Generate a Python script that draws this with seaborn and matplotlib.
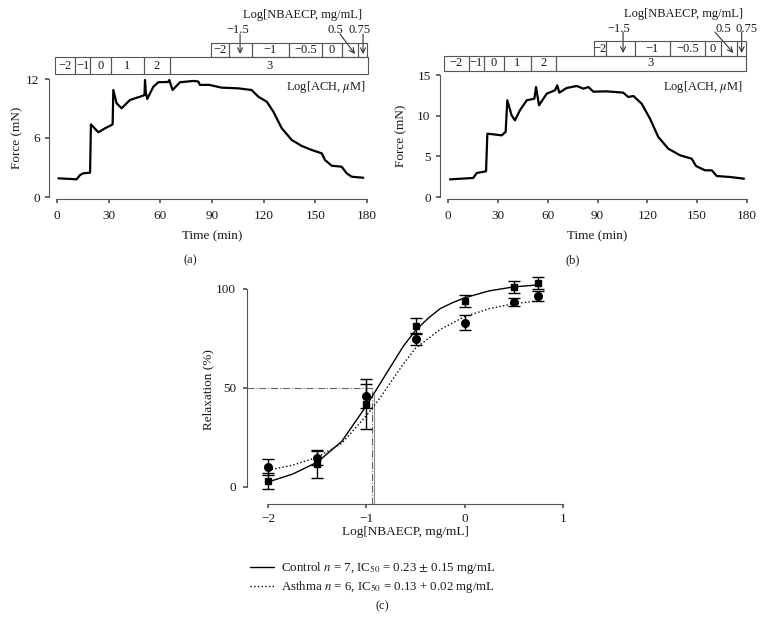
import numpy as np
import pandas as pd
import seaborn as sns
import matplotlib.pyplot as plt
from matplotlib.patches import Rectangle
from matplotlib.lines import Line2D
from matplotlib.transforms import blended_transform_factory

# ---- force traces (a) and (b) ----
time_a = [0.8, 11.4, 13.4, 15.3, 19.2, 19.7, 24.0, 27.9, 31.7, 32.3, 32.7, 34.6, 37.5, 42.4, 48.2,
          50.8, 51.1, 51.6, 52.4, 55.9, 58.8, 64.6, 65.2, 67.1, 71.4, 79.1, 82.0, 83.0, 88.4, 95.6,
          105.3, 113.0, 116.9, 121.8, 125.6, 130.5, 136.3, 142.1, 147.9, 153.7, 155.6, 159.5, 165.3,
          168.2, 171.1, 177.9]
force_a = [1.90, 1.80, 2.24, 2.41, 2.47, 7.39, 6.58, 6.99, 7.32, 7.40, 10.88, 9.53, 9.02, 9.87, 10.20,
           10.37, 11.90, 10.6, 9.97, 11.20, 11.67, 11.70, 11.90, 10.88, 11.67, 11.80, 11.75, 11.40, 11.40, 11.12,
           11.05, 10.88, 10.20, 9.69, 8.68, 6.99, 5.80, 5.19, 4.78, 4.44, 3.76, 3.18, 3.08,
           2.41, 2.06, 1.96]

time_b = [1.2, 15.2, 17.3, 22.9, 23.7, 32.3, 34.7, 35.7, 38.3, 40.3, 43.3, 47.4, 52.0, 53.0, 54.8,
          59.4, 64.4, 65.8, 67.0, 71.4, 77.5, 81.5, 84.5, 87.5, 95.5, 105.5, 108.5, 111.6, 116.6, 121.6,
          126.6, 132.6, 139.7, 146.7, 149.3, 154.7, 158.8, 161.8, 169.8, 178.2]
force_b = [2.17, 2.34, 2.95, 3.16, 7.79, 7.58, 8.00, 11.89, 10.04, 9.43, 10.66, 11.89, 12.09, 13.52, 11.27,
           12.70, 13.12, 13.73, 12.83, 13.40, 13.65, 13.32, 13.52, 12.95, 12.99, 12.83, 12.30, 12.42, 11.47, 9.63,
           7.38, 5.94, 5.13, 4.71, 3.81, 3.28, 3.28, 2.58, 2.46, 2.25]

# dosing schedule (minutes where each concentration starts)
ach_labels = ['\u22122', '\u22121', '0', '1', '2', '3']
ach_edges_a = [-1.2, 10.5, 19.2, 31.4, 50.5, 65.6, 180.6]
ach_edges_b = [-2.4, 12.6, 21.7, 33.7, 50.0, 65.0, 179.4]
nb_labels = ['\u22122', '', '\u22121', '\u22120.5', '0', '', '']
nb_edges_a = [89.2, 100.0, 113.4, 134.5, 153.9, 165.3, 174.6, 179.8]
nb_edges_b = [87.9, 95.1, 112.6, 133.6, 154.7, 164.3, 173.8, 179.4]

# ---- concentration-response, panel (c) ----
log_conc = [-2, -1.5, -1, -0.5, 0, 0.5, 0.75]
control_mean = [3.0, 11.5, 42.0, 81.3, 94.0, 101.0, 103.0]
control_err = [4.0, 7.0, 12.5, 4.0, 3.0, 3.0, 3.0]
asthma_mean = [10.0, 14.8, 46.0, 74.7, 83.0, 93.4, 96.5]
asthma_err = [4.0, 3.5, 6.0, 3.0, 3.8, 2.0, 2.5]

control_fit_x = [-2, -1.75, -1.5, -1.25, -1, -0.875, -0.75, -0.625, -0.5, -0.375, -0.25, -0.125, 0, 0.25, 0.5, 0.75]
control_fit_y = [2.5, 6.5, 12.5, 23, 41, 51, 61, 71, 79, 85, 90, 93, 95.5, 99, 101, 102]
asthma_fit_x = [-2, -1.75, -1.5, -1.25, -1, -0.875, -0.75, -0.625, -0.5, -0.25, 0, 0.25, 0.5, 0.75]
asthma_fit_y = [8.5, 11, 15, 22, 36, 44, 53, 62, 70, 79.5, 86, 90, 92.5, 94]

sns.set_theme(style='ticks')
plt.rcParams['font.family'] = ['Liberation Serif', 'DejaVu Serif']
plt.rcParams['mathtext.fontset'] = 'stix'
plt.rcParams['font.size'] = 9
plt.rcParams['axes.labelsize'] = 9.5
plt.rcParams['axes.edgecolor'] = '#555555'
plt.rcParams['axes.linewidth'] = 0.8
plt.rcParams['xtick.color'] = '#555555'
plt.rcParams['ytick.color'] = '#555555'
plt.rcParams['xtick.labelcolor'] = '#1a1a1a'
plt.rcParams['ytick.labelcolor'] = '#1a1a1a'
plt.rcParams['xtick.labelsize'] = 9.5
plt.rcParams['ytick.labelsize'] = 9.5
plt.rcParams['xtick.major.size'] = 3
plt.rcParams['ytick.major.size'] = 3
plt.rcParams['text.color'] = '#1a1a1a'
plt.rcParams['axes.labelcolor'] = '#1a1a1a'

W, H = 764, 632
fig = plt.figure(figsize=(W / 100, H / 100), dpi=100)


def px_box(left, top, width, height):
    return [left / W, 1 - (top + height) / H, width / W, height / H]


def fy(py):
    return 1 - py / H


ax_a = fig.add_axes(px_box(57, 79, 310, 118))
ax_b = fig.add_axes(px_box(448, 75, 299, 122))
ax_c = fig.add_axes(px_box(247, 275, 316, 229))

df_a = pd.DataFrame({'time': time_a, 'force': force_a})
df_b = pd.DataFrame({'time': time_b, 'force': force_b})
sns.lineplot(data=df_a, x='time', y='force', ax=ax_a, color='black', lw=1.6, estimator=None)
sns.lineplot(data=df_b, x='time', y='force', ax=ax_b, color='black', lw=1.6, estimator=None)

for ax, ymax, yt, ypad in [(ax_a, 12, [0, 6, 12], 2), (ax_b, 15, [0, 5, 10, 15], 7)]:
    ax.set_xlim(0, 180)
    ax.set_ylim(0, ymax)
    ax.set_xticks(range(0, 181, 30))
    ax.set_yticks(yt)
    ax.tick_params(axis='x', pad=5)
    ax.set_xlabel('Time (min)', labelpad=6)
    ax.set_ylabel('Force (mN)', labelpad=ypad)
    sns.despine(ax=ax, offset={'left': 6, 'bottom': 1.5}, trim=True)


def dose_rows(ax, ach_edges, nb_edges, top, mid, bottom):
    trans = blended_transform_factory(ax.transData, fig.transFigure)
    for edges, labels, y0, y1 in [(ach_edges, ach_labels, mid, bottom), (nb_edges, nb_labels, top, mid)]:
        for i, lab in enumerate(labels):
            r = Rectangle((edges[i], fy(y1)), edges[i + 1] - edges[i], fy(y0) - fy(y1),
                          transform=trans, fill=False, ec='#555555', lw=0.8)
            fig.add_artist(r)
            if lab:
                ax.text((edges[i] + edges[i + 1]) / 2, fy((y0 + y1) / 2), lab, transform=trans,
                        ha='center', va='center', fontsize=9)
    return trans


def nb_arrows(ax, trans, title_x, title_y, lab_pos, arrows, lab_y, a_top, a_bot):
    ax.text(title_x, fy(title_y), 'Log[NBAECP, mg/mL]', transform=trans, ha='center', va='center', fontsize=9)
    for (x, lab) in lab_pos:
        ax.text(x, fy(lab_y), lab, transform=trans, ha='center', va='center', fontsize=9)
    for (x0, x1) in arrows:
        ax.annotate('', xy=(x1, fy(a_bot)), xytext=(x0, fy(a_top)), xycoords=trans, textcoords=trans,
                    arrowprops=dict(arrowstyle='->', lw=0.8, color='#333333', shrinkA=0, shrinkB=0))


tr_a = dose_rows(ax_a, ach_edges_a, nb_edges_a, 42.7, 57.3, 74)
nb_arrows(ax_a, tr_a, 142.8, 15, [(105.1, '\u22121.5'), (161.5, '0.5'), (175.5, '0.75')],
          [(106.3, 106.3), (164.3, 173.0), (177.7, 177.7)], 30, 34, 54)
tr_b = dose_rows(ax_b, ach_edges_b, nb_edges_b, 41, 56, 70.7)
nb_arrows(ax_b, tr_b, 141.7, 13.5, [(102.5, '\u22121.5'), (165.5, '0.5'), (179.8, '0.75')],
          [(105.4, 105.4), (160.7, 171.8), (176.8, 176.8)], 28.5, 32, 53)

fig.text(366 / W, fy(87), r'Log[ACH, $\mu$M]', ha='right', va='center', fontsize=9)
fig.text(743 / W, fy(87), r'Log[ACH, $\mu$M]', ha='right', va='center', fontsize=9)

# ---- panel (c) ----
xlo, ylo = -2.214, -8.6
ax_c.set_xlim(xlo, 1.0)
ax_c.set_ylim(ylo, 107)

ax_c.plot([xlo, -0.945], [50, 50], ls='-.', color='#666666', lw=0.8)
ax_c.plot([-0.945, -0.945], [ylo, 50], ls='-.', color='#666666', lw=0.8)
ax_c.plot([-0.92, -0.92], [ylo, 46.5], ls='-', color='#888888', lw=0.8)

fit_df = pd.concat([
    pd.DataFrame({'x': control_fit_x, 'y': control_fit_y, 'group': 'control'}),
    pd.DataFrame({'x': asthma_fit_x, 'y': asthma_fit_y, 'group': 'asthma'}),
])
sns.lineplot(data=fit_df[fit_df.group == 'control'], x='x', y='y', ax=ax_c, color='black', lw=1.0, estimator=None)
sns.lineplot(data=fit_df[fit_df.group == 'asthma'], x='x', y='y', ax=ax_c, color='black', lw=1.0,
             ls=':', estimator=None)

ax_c.errorbar(log_conc, control_mean, yerr=control_err, fmt='s', color='black', ms=5, capsize=4.5,
              capthick=1, elinewidth=1)
ax_c.errorbar(log_conc, asthma_mean, yerr=asthma_err, fmt='o', color='black', ms=5.5, capsize=4.5,
              capthick=1, elinewidth=1)

ax_c.set_xticks([-2, -1, 0, 1])
ax_c.set_xticklabels(['\u22122', '\u22121', '0', '1'])
ax_c.set_yticks([0, 50, 100])
ax_c.tick_params(axis='y', pad=5)
ax_c.set_xlabel('Log[NBAECP, mg/mL]', labelpad=1)
ax_c.set_ylabel('Relaxation (%)', labelpad=1)
sns.despine(ax=ax_c, trim=True)

handles = [Line2D([], [], color='black', lw=1.0), Line2D([], [], color='black', lw=1.0, ls=':')]
labels = [r'Control $n$ = 7, IC$_{50}$ = 0.23 $\pm$ 0.15 mg/mL',
          r'Asthma $n$ = 6, IC$_{50}$ = 0.13 + 0.02 mg/mL']
fig.legend(handles, labels, loc='upper left', bbox_to_anchor=(244 / W, fy(554)), frameon=False,
           fontsize=9.3, handlelength=1.8, handletextpad=0.6, labelspacing=0.2, borderpad=0)

fig.text(190 / W, fy(260), '(a)', ha='center', va='center', fontsize=9)
fig.text(573 / W, fy(260), '(b)', ha='center', va='center', fontsize=9)
fig.text(382 / W, fy(606), '(c)', ha='center', va='center', fontsize=9)

fig.savefig('out.png', dpi=100)
